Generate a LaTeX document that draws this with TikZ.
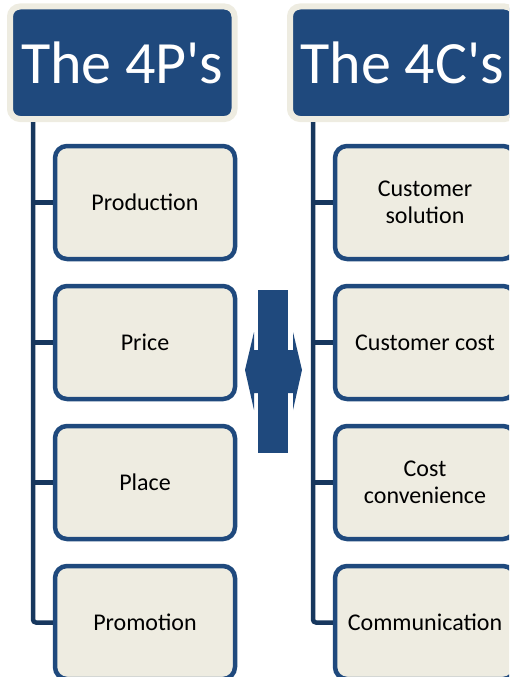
\documentclass[tikz,border=0pt]{standalone}
\usepackage{fontspec}
\setmainfont{Carlito}[Ligatures=TeXOff]
\usepackage{xcolor}
\usepackage{tikz}

\definecolor{hdrblue}{HTML}{1F497D}
\definecolor{boxbeige}{HTML}{EEECE1}
\definecolor{linenavy}{HTML}{17375E}

\tikzset{
  header/.style={draw=boxbeige, fill=hdrblue, line width=6pt, rounded corners=10pt,
    minimum width=224.5pt, minimum height=112.5pt, inner sep=0pt,
    text=white, font=\fontsize{60}{72}\selectfont},
  item/.style={draw=hdrblue, fill=boxbeige, line width=4.5pt, rounded corners=12pt,
    minimum width=180pt, minimum height=113pt, align=center,
    font=\fontsize{24}{27}\selectfont},
  trunk/.style={draw=linenavy, line width=4.5pt, rounded corners=3pt}
}

\begin{document}
\begin{tikzpicture}[x=1pt,y=-1pt]
    \clip (0,0) rectangle (509,677);
    % headers
    \node[header] (hp) at (122.25,62.75) {The 4P's};
    \node[header] (hc) at (402.25,62.75) {The 4C's};
    % left column
    \node[item] (p1) at (145,202.5) {Production};
    \node[item] (p2) at (145,342.5) {Price};
    \node[item] (p3) at (145,482.5) {Place};
    \node[item] (p4) at (145,622.5) {Promotion};
    % right column
    \node[item] (c1) at (425,202.5) {Customer\\solution};
    \node[item] (c2) at (425,342.5) {Customer cost};
    \node[item] (c3) at (425,482.5) {Cost\\convenience};
    \node[item] (c4) at (425,622.5) {Communication};
    % trunks
    \coordinate (tp) at ([xshift=26pt]hp.south west);
    \coordinate (tc) at ([xshift=26pt]hc.south west);
    \draw[trunk] (tp) |- (p4.west);
    \draw[trunk] (tc) |- (c4.west);
    \foreach \n in {p1,p2,p3} \draw[trunk] (tp |- \n.west) -- (\n.west);
    \foreach \n in {c1,c2,c3} \draw[trunk] (tc |- \n.west) -- (\n.west);
    % double arrow
    \fill[hdrblue] (258,290) rectangle (288,453);
    \fill[hdrblue] (245,370) -- (254,332) -- (254,350) -- (293,350) -- (293,332)
      -- (302,370) -- (293,410) -- (293,393) -- (254,393) -- (254,410) -- cycle;
\end{tikzpicture}
\end{document}
